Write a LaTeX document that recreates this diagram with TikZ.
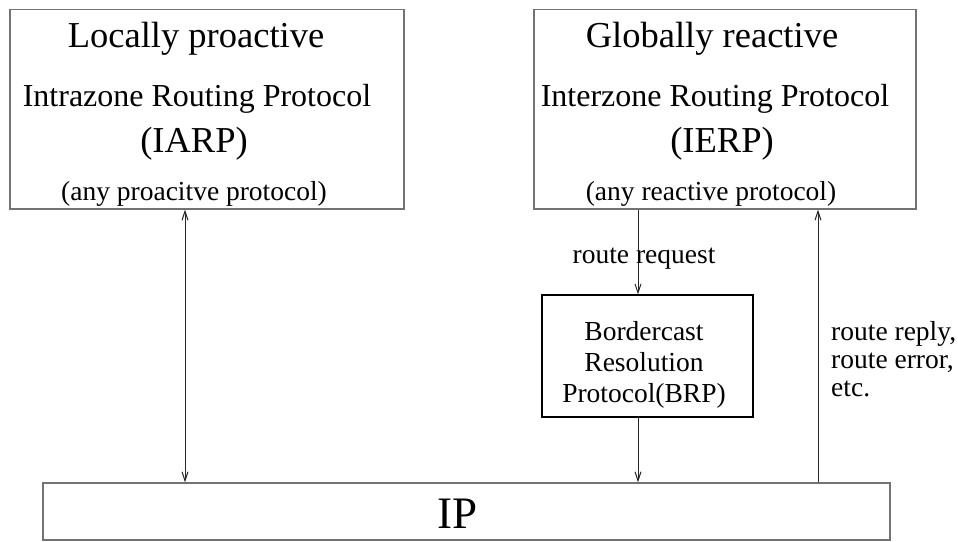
\documentclass[tikz,border=0pt]{standalone}
\usepackage{fontspec}
\setmainfont{Liberation Serif}
\usetikzlibrary{arrows.meta}
\begin{document}
\begin{tikzpicture}[x=1pt, y=-1pt, >={Straight Barb[length=9pt,width=6pt]},
  protobox/.style={draw=black!55, line width=1.3pt, inner sep=0pt},
  brpbox/.style={draw=black, line width=1.1pt, inner sep=0pt},
  hugetext/.style={font=\fontsize{45}{50}\selectfont, inner sep=0pt},
  bigtext/.style={font=\fontsize{36.5}{42}\selectfont, inner sep=0pt},
  midtext/.style={font=\fontsize{32}{36}\selectfont, inner sep=0pt},
  smalltext/.style={font=\fontsize{27.5}{31}\selectfont, inner sep=0pt},
  flow/.style={draw=black!85, line width=1pt}]
% page size of the reference
\useasboundingbox (0,0) rectangle (958,541);
% Protocol boxes
\node[protobox, minimum width=394pt, minimum height=199.5pt] (iarp) at (207,109.25) {};
\node[protobox, minimum width=382pt, minimum height=199.5pt] (ierp) at (725,109.25) {};
\node[brpbox, minimum width=211pt, minimum height=122pt] (brp) at (647.5,356) {};
\node[protobox, minimum width=847pt, minimum height=57pt] (ip) at (466.5,511.5) {};
% Texts of the left box
\node[bigtext, anchor=base] (iarptitle) at (196,47) {Locally proactive};
\node[midtext, anchor=base] (iarpname) at (197,106) {Intrazone Routing Protocol};
\node[bigtext, anchor=base] (iarpshort) at (194,152) {(IARP)};
\node[smalltext, anchor=base] (iarpnote) at (194,200) {(any proacitve protocol)};
% Texts of the right box
\node[bigtext, anchor=base] (ierptitle) at (712,47) {Globally reactive};
\node[midtext, anchor=base] (ierpname) at (715,106) {Interzone Routing Protocol};
\node[bigtext, anchor=base] (ierpshort) at (722,152) {(IERP)};
\node[smalltext, anchor=base] (ierpnote) at (711,200) {(any reactive protocol)};
% Middle and bottom texts
\node[smalltext, align=center] (brptext) at (644,364.5) {Bordercast\\Resolution\\Protocol(BRP)};
\node[hugetext, anchor=base] (iptext) at (458,528) {IP};
% Connectors
\draw[flow, <->] ([xshift=-22pt]iarp.south) -- ([xshift=-22pt]iarp.south |- ip.north);
\draw[flow, ->] ([xshift=-9.5pt]brp.north |- ierp.south) -- ([xshift=-9.5pt]brp.north);
\draw[flow, ->] ([xshift=-9.5pt]brp.south) -- ([xshift=-9.5pt]brp.south |- ip.north);
\draw[flow, ->] ([xshift=93pt]ierp.south |- ip.north) -- ([xshift=93pt]ierp.south);
% Connector labels
\node[smalltext, anchor=base] (reqlabel) at (644,263) {route request};
\node[smalltext, align=left, anchor=north west] (replylabel) at (831,321) {route reply,\\[-3pt]route error,\\[-3pt]etc.};
\end{tikzpicture}
\end{document}
